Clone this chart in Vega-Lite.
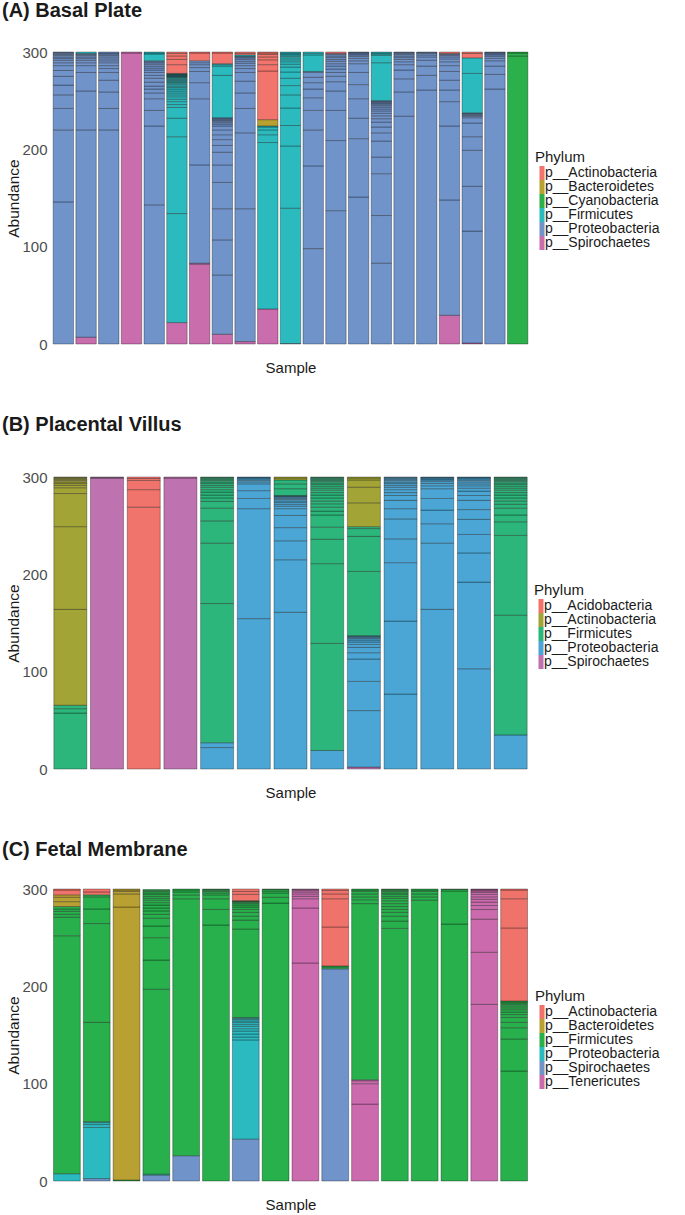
{
"$schema": "https://vega.github.io/schema/vega-lite/v6.json",
"padding": {"left": 1, "top": 0, "right": 5, "bottom": 5},
"background": "white",
"config": {
 "font": "Liberation Sans",
 "view": {"stroke": null},
 "axis": {"grid": false, "domain": false, "ticks": false, "labelFontSize": 15, "labelColor": "#4d4d4d", "titleFontSize": 15.5, "titleFontWeight": "normal", "titleColor": "#1a1a1a"},
 "legend": {"titleFontSize": 15, "titleFontWeight": "normal", "titleColor": "#1a1a1a", "titlePadding": 1, "labelFontSize": 14, "labelColor": "#1a1a1a", "labelOffset": -4, "rowPadding": 0, "symbolType": "M-0.36,-1H0.36V1H-0.36Z", "symbolSize": 196, "symbolStrokeWidth": 0, "symbolOpacity": 1},
 "title": {"fontSize": 20, "fontWeight": "bold", "anchor": "start", "color": "#1a1a1a", "font": "Liberation Sans"},
 "concat": {"spacing": 39}
},
"datasets": {
"A": [
{"sample":1,"phylum":"Proteobacteria","abundance":146},{"sample":1,"phylum":"Proteobacteria","abundance":74},{"sample":1,"phylum":"Proteobacteria","abundance":22},{"sample":1,"phylum":"Proteobacteria","abundance":14},{"sample":1,"phylum":"Proteobacteria","abundance":10},{"sample":1,"phylum":"Proteobacteria","abundance":9},{"sample":1,"phylum":"Proteobacteria","abundance":6},{"sample":1,"phylum":"Proteobacteria","abundance":5},{"sample":1,"phylum":"Proteobacteria","abundance":3},{"sample":1,"phylum":"Proteobacteria","abundance":2.5},{"sample":1,"phylum":"Proteobacteria","abundance":2},{"sample":1,"phylum":"Proteobacteria","abundance":1.5},{"sample":1,"phylum":"Proteobacteria","abundance":1.5},{"sample":1,"phylum":"Proteobacteria","abundance":1},{"sample":1,"phylum":"Proteobacteria","abundance":1},{"sample":1,"phylum":"Proteobacteria","abundance":1},{"sample":1,"phylum":"Proteobacteria","abundance":0.5},
{"sample":2,"phylum":"Spirochaetes","abundance":7},{"sample":2,"phylum":"Proteobacteria","abundance":213},{"sample":2,"phylum":"Proteobacteria","abundance":40},{"sample":2,"phylum":"Proteobacteria","abundance":19},{"sample":2,"phylum":"Proteobacteria","abundance":7},{"sample":2,"phylum":"Proteobacteria","abundance":3},{"sample":2,"phylum":"Proteobacteria","abundance":2.5},{"sample":2,"phylum":"Proteobacteria","abundance":2},{"sample":2,"phylum":"Proteobacteria","abundance":1.5},{"sample":2,"phylum":"Proteobacteria","abundance":1.5},{"sample":2,"phylum":"Proteobacteria","abundance":1},{"sample":2,"phylum":"Proteobacteria","abundance":1},{"sample":2,"phylum":"Firmicutes","abundance":1.5},
{"sample":3,"phylum":"Proteobacteria","abundance":220},{"sample":3,"phylum":"Proteobacteria","abundance":22},{"sample":3,"phylum":"Proteobacteria","abundance":17},{"sample":3,"phylum":"Proteobacteria","abundance":12},{"sample":3,"phylum":"Proteobacteria","abundance":8},{"sample":3,"phylum":"Proteobacteria","abundance":4},{"sample":3,"phylum":"Proteobacteria","abundance":3},{"sample":3,"phylum":"Proteobacteria","abundance":3},{"sample":3,"phylum":"Proteobacteria","abundance":2},{"sample":3,"phylum":"Proteobacteria","abundance":2},{"sample":3,"phylum":"Proteobacteria","abundance":2},{"sample":3,"phylum":"Proteobacteria","abundance":1.5},{"sample":3,"phylum":"Proteobacteria","abundance":1.5},{"sample":3,"phylum":"Proteobacteria","abundance":1},{"sample":3,"phylum":"Proteobacteria","abundance":1},
{"sample":4,"phylum":"Spirochaetes","abundance":299},{"sample":4,"phylum":"Spirochaetes","abundance":1},
{"sample":5,"phylum":"Proteobacteria","abundance":143},{"sample":5,"phylum":"Proteobacteria","abundance":81},{"sample":5,"phylum":"Proteobacteria","abundance":16},{"sample":5,"phylum":"Proteobacteria","abundance":12},{"sample":5,"phylum":"Proteobacteria","abundance":6},{"sample":5,"phylum":"Proteobacteria","abundance":4},{"sample":5,"phylum":"Proteobacteria","abundance":3},{"sample":5,"phylum":"Proteobacteria","abundance":4},{"sample":5,"phylum":"Proteobacteria","abundance":4},{"sample":5,"phylum":"Proteobacteria","abundance":3},{"sample":5,"phylum":"Proteobacteria","abundance":3},{"sample":5,"phylum":"Proteobacteria","abundance":2.5},{"sample":5,"phylum":"Proteobacteria","abundance":2},{"sample":5,"phylum":"Proteobacteria","abundance":2},{"sample":5,"phylum":"Proteobacteria","abundance":2},{"sample":5,"phylum":"Proteobacteria","abundance":1.5},{"sample":5,"phylum":"Proteobacteria","abundance":1},{"sample":5,"phylum":"Proteobacteria","abundance":1},{"sample":5,"phylum":"Firmicutes","abundance":7},{"sample":5,"phylum":"Firmicutes","abundance":1},{"sample":5,"phylum":"Firmicutes","abundance":1},
{"sample":6,"phylum":"Spirochaetes","abundance":22},{"sample":6,"phylum":"Firmicutes","abundance":112},{"sample":6,"phylum":"Firmicutes","abundance":79},{"sample":6,"phylum":"Firmicutes","abundance":19},{"sample":6,"phylum":"Firmicutes","abundance":11},{"sample":6,"phylum":"Firmicutes","abundance":3},{"sample":6,"phylum":"Firmicutes","abundance":3},{"sample":6,"phylum":"Firmicutes","abundance":2.5},{"sample":6,"phylum":"Firmicutes","abundance":2.5},{"sample":6,"phylum":"Firmicutes","abundance":2},{"sample":6,"phylum":"Firmicutes","abundance":2},{"sample":6,"phylum":"Firmicutes","abundance":2},{"sample":6,"phylum":"Firmicutes","abundance":2},{"sample":6,"phylum":"Firmicutes","abundance":1.5},{"sample":6,"phylum":"Firmicutes","abundance":1.5},{"sample":6,"phylum":"Firmicutes","abundance":1.5},{"sample":6,"phylum":"Firmicutes","abundance":1.5},{"sample":6,"phylum":"Firmicutes","abundance":1},{"sample":6,"phylum":"Firmicutes","abundance":1},{"sample":6,"phylum":"Firmicutes","abundance":1},{"sample":6,"phylum":"Firmicutes","abundance":1},{"sample":6,"phylum":"Firmicutes","abundance":1},{"sample":6,"phylum":"Firmicutes","abundance":1},{"sample":6,"phylum":"Firmicutes","abundance":0.5},{"sample":6,"phylum":"Firmicutes","abundance":0.5},{"sample":6,"phylum":"Firmicutes","abundance":0.5},{"sample":6,"phylum":"Firmicutes","abundance":0.5},{"sample":6,"phylum":"Firmicutes","abundance":0.5},{"sample":6,"phylum":"Firmicutes","abundance":0.5},{"sample":6,"phylum":"Firmicutes","abundance":0.5},{"sample":6,"phylum":"Firmicutes","abundance":0.5},{"sample":6,"phylum":"Actinobacteria","abundance":9},{"sample":6,"phylum":"Actinobacteria","abundance":5.5},{"sample":6,"phylum":"Actinobacteria","abundance":3.5},{"sample":6,"phylum":"Actinobacteria","abundance":2.5},{"sample":6,"phylum":"Actinobacteria","abundance":1.5},
{"sample":7,"phylum":"Spirochaetes","abundance":82},{"sample":7,"phylum":"Spirochaetes","abundance":1},{"sample":7,"phylum":"Proteobacteria","abundance":101},{"sample":7,"phylum":"Proteobacteria","abundance":68},{"sample":7,"phylum":"Proteobacteria","abundance":16.5},{"sample":7,"phylum":"Proteobacteria","abundance":11.5},{"sample":7,"phylum":"Proteobacteria","abundance":4},{"sample":7,"phylum":"Proteobacteria","abundance":3},{"sample":7,"phylum":"Proteobacteria","abundance":2},{"sample":7,"phylum":"Proteobacteria","abundance":2},{"sample":7,"phylum":"Actinobacteria","abundance":8},{"sample":7,"phylum":"Actinobacteria","abundance":1},
{"sample":8,"phylum":"Spirochaetes","abundance":10},{"sample":8,"phylum":"Proteobacteria","abundance":61},{"sample":8,"phylum":"Proteobacteria","abundance":36},{"sample":8,"phylum":"Proteobacteria","abundance":32},{"sample":8,"phylum":"Proteobacteria","abundance":27},{"sample":8,"phylum":"Proteobacteria","abundance":18},{"sample":8,"phylum":"Proteobacteria","abundance":13},{"sample":8,"phylum":"Proteobacteria","abundance":7},{"sample":8,"phylum":"Proteobacteria","abundance":6},{"sample":8,"phylum":"Proteobacteria","abundance":5},{"sample":8,"phylum":"Proteobacteria","abundance":5},{"sample":8,"phylum":"Proteobacteria","abundance":4},{"sample":8,"phylum":"Proteobacteria","abundance":2},{"sample":8,"phylum":"Proteobacteria","abundance":1.5},{"sample":8,"phylum":"Proteobacteria","abundance":1.5},{"sample":8,"phylum":"Proteobacteria","abundance":1},{"sample":8,"phylum":"Proteobacteria","abundance":1},{"sample":8,"phylum":"Proteobacteria","abundance":1},{"sample":8,"phylum":"Proteobacteria","abundance":0.5},{"sample":8,"phylum":"Firmicutes","abundance":43.5},{"sample":8,"phylum":"Firmicutes","abundance":9.5},{"sample":8,"phylum":"Firmicutes","abundance":1.5},{"sample":8,"phylum":"Firmicutes","abundance":1},{"sample":8,"phylum":"Actinobacteria","abundance":11},{"sample":8,"phylum":"Actinobacteria","abundance":1},
{"sample":9,"phylum":"Spirochaetes","abundance":2.5},{"sample":9,"phylum":"Proteobacteria","abundance":136.5},{"sample":9,"phylum":"Proteobacteria","abundance":78},{"sample":9,"phylum":"Proteobacteria","abundance":25},{"sample":9,"phylum":"Proteobacteria","abundance":16},{"sample":9,"phylum":"Proteobacteria","abundance":12},{"sample":9,"phylum":"Proteobacteria","abundance":9},{"sample":9,"phylum":"Proteobacteria","abundance":4},{"sample":9,"phylum":"Proteobacteria","abundance":3},{"sample":9,"phylum":"Proteobacteria","abundance":2.5},{"sample":9,"phylum":"Proteobacteria","abundance":2},{"sample":9,"phylum":"Proteobacteria","abundance":2},{"sample":9,"phylum":"Proteobacteria","abundance":1.5},{"sample":9,"phylum":"Proteobacteria","abundance":1},{"sample":9,"phylum":"Proteobacteria","abundance":0.5},{"sample":9,"phylum":"Firmicutes","abundance":1.5},{"sample":9,"phylum":"Actinobacteria","abundance":1.5},{"sample":9,"phylum":"Actinobacteria","abundance":1.5},
{"sample":10,"phylum":"Spirochaetes","abundance":36},{"sample":10,"phylum":"Firmicutes","abundance":171},{"sample":10,"phylum":"Firmicutes","abundance":8},{"sample":10,"phylum":"Firmicutes","abundance":5},{"sample":10,"phylum":"Firmicutes","abundance":3},{"sample":10,"phylum":"Firmicutes","abundance":1},{"sample":10,"phylum":"Bacteroidetes","abundance":6.5},{"sample":10,"phylum":"Actinobacteria","abundance":50},{"sample":10,"phylum":"Actinobacteria","abundance":6.5},{"sample":10,"phylum":"Actinobacteria","abundance":5},{"sample":10,"phylum":"Actinobacteria","abundance":3},{"sample":10,"phylum":"Actinobacteria","abundance":2.5},{"sample":10,"phylum":"Actinobacteria","abundance":1.5},{"sample":10,"phylum":"Actinobacteria","abundance":1},
{"sample":11,"phylum":"Spirochaetes","abundance":0.5},{"sample":11,"phylum":"Firmicutes","abundance":139},{"sample":11,"phylum":"Firmicutes","abundance":64},{"sample":11,"phylum":"Firmicutes","abundance":21},{"sample":11,"phylum":"Firmicutes","abundance":18},{"sample":11,"phylum":"Firmicutes","abundance":13.5},{"sample":11,"phylum":"Firmicutes","abundance":9.5},{"sample":11,"phylum":"Firmicutes","abundance":7.5},{"sample":11,"phylum":"Firmicutes","abundance":6.5},{"sample":11,"phylum":"Firmicutes","abundance":5},{"sample":11,"phylum":"Firmicutes","abundance":3},{"sample":11,"phylum":"Firmicutes","abundance":2.5},{"sample":11,"phylum":"Firmicutes","abundance":2},{"sample":11,"phylum":"Firmicutes","abundance":2},{"sample":11,"phylum":"Firmicutes","abundance":1.5},{"sample":11,"phylum":"Firmicutes","abundance":1.5},{"sample":11,"phylum":"Firmicutes","abundance":1},{"sample":11,"phylum":"Firmicutes","abundance":1},{"sample":11,"phylum":"Firmicutes","abundance":1},
{"sample":12,"phylum":"Proteobacteria","abundance":98},{"sample":12,"phylum":"Proteobacteria","abundance":85},{"sample":12,"phylum":"Proteobacteria","abundance":37},{"sample":12,"phylum":"Proteobacteria","abundance":20},{"sample":12,"phylum":"Proteobacteria","abundance":13},{"sample":12,"phylum":"Proteobacteria","abundance":9},{"sample":12,"phylum":"Proteobacteria","abundance":6.5},{"sample":12,"phylum":"Proteobacteria","abundance":5.5},{"sample":12,"phylum":"Proteobacteria","abundance":5},{"sample":12,"phylum":"Proteobacteria","abundance":1},{"sample":12,"phylum":"Firmicutes","abundance":17},{"sample":12,"phylum":"Firmicutes","abundance":1.5},{"sample":12,"phylum":"Firmicutes","abundance":1.5},
{"sample":13,"phylum":"Proteobacteria","abundance":137},{"sample":13,"phylum":"Proteobacteria","abundance":72},{"sample":13,"phylum":"Proteobacteria","abundance":31},{"sample":13,"phylum":"Proteobacteria","abundance":20},{"sample":13,"phylum":"Proteobacteria","abundance":9.5},{"sample":13,"phylum":"Proteobacteria","abundance":5.5},{"sample":13,"phylum":"Proteobacteria","abundance":4},{"sample":13,"phylum":"Proteobacteria","abundance":3.5},{"sample":13,"phylum":"Proteobacteria","abundance":3},{"sample":13,"phylum":"Proteobacteria","abundance":2.5},{"sample":13,"phylum":"Proteobacteria","abundance":2.5},{"sample":13,"phylum":"Proteobacteria","abundance":2},{"sample":13,"phylum":"Proteobacteria","abundance":2},{"sample":13,"phylum":"Proteobacteria","abundance":1.5},{"sample":13,"phylum":"Proteobacteria","abundance":1.5},{"sample":13,"phylum":"Proteobacteria","abundance":1},{"sample":13,"phylum":"Actinobacteria","abundance":1.5},
{"sample":14,"phylum":"Proteobacteria","abundance":151},{"sample":14,"phylum":"Proteobacteria","abundance":60},{"sample":14,"phylum":"Proteobacteria","abundance":21},{"sample":14,"phylum":"Proteobacteria","abundance":20},{"sample":14,"phylum":"Proteobacteria","abundance":14.5},{"sample":14,"phylum":"Proteobacteria","abundance":12.5},{"sample":14,"phylum":"Proteobacteria","abundance":9},{"sample":14,"phylum":"Proteobacteria","abundance":3},{"sample":14,"phylum":"Proteobacteria","abundance":2.5},{"sample":14,"phylum":"Proteobacteria","abundance":2},{"sample":14,"phylum":"Proteobacteria","abundance":1.5},{"sample":14,"phylum":"Proteobacteria","abundance":1},{"sample":14,"phylum":"Proteobacteria","abundance":1},{"sample":14,"phylum":"Proteobacteria","abundance":0.5},{"sample":14,"phylum":"Proteobacteria","abundance":0.5},
{"sample":15,"phylum":"Proteobacteria","abundance":83},{"sample":15,"phylum":"Proteobacteria","abundance":49},{"sample":15,"phylum":"Proteobacteria","abundance":43},{"sample":15,"phylum":"Proteobacteria","abundance":17},{"sample":15,"phylum":"Proteobacteria","abundance":16.5},{"sample":15,"phylum":"Proteobacteria","abundance":8.5},{"sample":15,"phylum":"Proteobacteria","abundance":6},{"sample":15,"phylum":"Proteobacteria","abundance":5},{"sample":15,"phylum":"Proteobacteria","abundance":3.5},{"sample":15,"phylum":"Proteobacteria","abundance":3},{"sample":15,"phylum":"Proteobacteria","abundance":2.5},{"sample":15,"phylum":"Proteobacteria","abundance":2.5},{"sample":15,"phylum":"Proteobacteria","abundance":2},{"sample":15,"phylum":"Proteobacteria","abundance":2},{"sample":15,"phylum":"Proteobacteria","abundance":1.5},{"sample":15,"phylum":"Proteobacteria","abundance":1.5},{"sample":15,"phylum":"Proteobacteria","abundance":1},{"sample":15,"phylum":"Proteobacteria","abundance":1},{"sample":15,"phylum":"Proteobacteria","abundance":1},{"sample":15,"phylum":"Proteobacteria","abundance":0.5},{"sample":15,"phylum":"Firmicutes","abundance":39},{"sample":15,"phylum":"Firmicutes","abundance":7.5},{"sample":15,"phylum":"Firmicutes","abundance":1.5},{"sample":15,"phylum":"Firmicutes","abundance":1},{"sample":15,"phylum":"Firmicutes","abundance":1},
{"sample":16,"phylum":"Proteobacteria","abundance":234},{"sample":16,"phylum":"Proteobacteria","abundance":25},{"sample":16,"phylum":"Proteobacteria","abundance":13.5},{"sample":16,"phylum":"Proteobacteria","abundance":9},{"sample":16,"phylum":"Proteobacteria","abundance":5.5},{"sample":16,"phylum":"Proteobacteria","abundance":3},{"sample":16,"phylum":"Proteobacteria","abundance":2.5},{"sample":16,"phylum":"Proteobacteria","abundance":2},{"sample":16,"phylum":"Proteobacteria","abundance":1.5},{"sample":16,"phylum":"Proteobacteria","abundance":1.5},{"sample":16,"phylum":"Proteobacteria","abundance":1},{"sample":16,"phylum":"Proteobacteria","abundance":1},{"sample":16,"phylum":"Proteobacteria","abundance":0.5},
{"sample":17,"phylum":"Proteobacteria","abundance":261},{"sample":17,"phylum":"Proteobacteria","abundance":15},{"sample":17,"phylum":"Proteobacteria","abundance":9.5},{"sample":17,"phylum":"Proteobacteria","abundance":6},{"sample":17,"phylum":"Proteobacteria","abundance":3.5},{"sample":17,"phylum":"Proteobacteria","abundance":2},{"sample":17,"phylum":"Proteobacteria","abundance":1.5},{"sample":17,"phylum":"Proteobacteria","abundance":1},{"sample":17,"phylum":"Proteobacteria","abundance":0.5},
{"sample":18,"phylum":"Spirochaetes","abundance":29.5},{"sample":18,"phylum":"Proteobacteria","abundance":118.5},{"sample":18,"phylum":"Proteobacteria","abundance":76},{"sample":18,"phylum":"Proteobacteria","abundance":25},{"sample":18,"phylum":"Proteobacteria","abundance":12},{"sample":18,"phylum":"Proteobacteria","abundance":10},{"sample":18,"phylum":"Proteobacteria","abundance":9},{"sample":18,"phylum":"Proteobacteria","abundance":6},{"sample":18,"phylum":"Proteobacteria","abundance":4},{"sample":18,"phylum":"Proteobacteria","abundance":3},{"sample":18,"phylum":"Proteobacteria","abundance":2},{"sample":18,"phylum":"Proteobacteria","abundance":1.5},{"sample":18,"phylum":"Proteobacteria","abundance":1},{"sample":18,"phylum":"Proteobacteria","abundance":1},{"sample":18,"phylum":"Actinobacteria","abundance":1.5},
{"sample":19,"phylum":"Spirochaetes","abundance":1},{"sample":19,"phylum":"Proteobacteria","abundance":115},{"sample":19,"phylum":"Proteobacteria","abundance":46},{"sample":19,"phylum":"Proteobacteria","abundance":37},{"sample":19,"phylum":"Proteobacteria","abundance":14},{"sample":19,"phylum":"Proteobacteria","abundance":14},{"sample":19,"phylum":"Proteobacteria","abundance":5.5},{"sample":19,"phylum":"Proteobacteria","abundance":1.5},{"sample":19,"phylum":"Proteobacteria","abundance":1},{"sample":19,"phylum":"Proteobacteria","abundance":1},{"sample":19,"phylum":"Proteobacteria","abundance":1},{"sample":19,"phylum":"Proteobacteria","abundance":0.5},{"sample":19,"phylum":"Firmicutes","abundance":40.5},{"sample":19,"phylum":"Firmicutes","abundance":16},{"sample":19,"phylum":"Actinobacteria","abundance":4.5},{"sample":19,"phylum":"Actinobacteria","abundance":1.5},
{"sample":20,"phylum":"Proteobacteria","abundance":262},{"sample":20,"phylum":"Proteobacteria","abundance":15},{"sample":20,"phylum":"Proteobacteria","abundance":8.5},{"sample":20,"phylum":"Proteobacteria","abundance":5.5},{"sample":20,"phylum":"Proteobacteria","abundance":2.5},{"sample":20,"phylum":"Proteobacteria","abundance":2},{"sample":20,"phylum":"Proteobacteria","abundance":1.5},{"sample":20,"phylum":"Proteobacteria","abundance":1},{"sample":20,"phylum":"Proteobacteria","abundance":1},{"sample":20,"phylum":"Proteobacteria","abundance":0.5},{"sample":20,"phylum":"Proteobacteria","abundance":0.5},
{"sample":21,"phylum":"Cyanobacteria","abundance":296},{"sample":21,"phylum":"Cyanobacteria","abundance":3},{"sample":21,"phylum":"Cyanobacteria","abundance":1}
],
"B": [
{"sample":1,"phylum":"Firmicutes","abundance":57.5},{"sample":1,"phylum":"Firmicutes","abundance":4.5},{"sample":1,"phylum":"Firmicutes","abundance":3.5},{"sample":1,"phylum":"Actinobacteria","abundance":98.5},{"sample":1,"phylum":"Actinobacteria","abundance":85},{"sample":1,"phylum":"Actinobacteria","abundance":34},{"sample":1,"phylum":"Actinobacteria","abundance":6},{"sample":1,"phylum":"Actinobacteria","abundance":2.5},{"sample":1,"phylum":"Actinobacteria","abundance":2},{"sample":1,"phylum":"Actinobacteria","abundance":1.5},{"sample":1,"phylum":"Actinobacteria","abundance":1.5},{"sample":1,"phylum":"Actinobacteria","abundance":1},{"sample":1,"phylum":"Actinobacteria","abundance":1},{"sample":1,"phylum":"Actinobacteria","abundance":1},{"sample":1,"phylum":"Actinobacteria","abundance":0.5},
{"sample":2,"phylum":"Spirochaetes","abundance":298.5},{"sample":2,"phylum":"Spirochaetes","abundance":1},{"sample":2,"phylum":"Spirochaetes","abundance":0.5},
{"sample":3,"phylum":"Acidobacteria","abundance":269},{"sample":3,"phylum":"Acidobacteria","abundance":18},{"sample":3,"phylum":"Acidobacteria","abundance":9.5},{"sample":3,"phylum":"Acidobacteria","abundance":2},{"sample":3,"phylum":"Acidobacteria","abundance":1.5},
{"sample":4,"phylum":"Spirochaetes","abundance":299},{"sample":4,"phylum":"Spirochaetes","abundance":1},
{"sample":5,"phylum":"Proteobacteria","abundance":22},{"sample":5,"phylum":"Proteobacteria","abundance":5},{"sample":5,"phylum":"Firmicutes","abundance":143},{"sample":5,"phylum":"Firmicutes","abundance":62},{"sample":5,"phylum":"Firmicutes","abundance":23},{"sample":5,"phylum":"Firmicutes","abundance":13},{"sample":5,"phylum":"Firmicutes","abundance":7},{"sample":5,"phylum":"Firmicutes","abundance":3.5},{"sample":5,"phylum":"Firmicutes","abundance":3},{"sample":5,"phylum":"Firmicutes","abundance":3},{"sample":5,"phylum":"Firmicutes","abundance":2.5},{"sample":5,"phylum":"Firmicutes","abundance":2.5},{"sample":5,"phylum":"Firmicutes","abundance":2},{"sample":5,"phylum":"Firmicutes","abundance":2},{"sample":5,"phylum":"Firmicutes","abundance":1.5},{"sample":5,"phylum":"Firmicutes","abundance":1.5},{"sample":5,"phylum":"Firmicutes","abundance":1},{"sample":5,"phylum":"Firmicutes","abundance":1},{"sample":5,"phylum":"Firmicutes","abundance":1},{"sample":5,"phylum":"Firmicutes","abundance":0.5},
{"sample":6,"phylum":"Proteobacteria","abundance":154.5},{"sample":6,"phylum":"Proteobacteria","abundance":113},{"sample":6,"phylum":"Proteobacteria","abundance":10.5},{"sample":6,"phylum":"Proteobacteria","abundance":8},{"sample":6,"phylum":"Proteobacteria","abundance":7},{"sample":6,"phylum":"Proteobacteria","abundance":2},{"sample":6,"phylum":"Proteobacteria","abundance":1.5},{"sample":6,"phylum":"Proteobacteria","abundance":1.5},{"sample":6,"phylum":"Proteobacteria","abundance":1},{"sample":6,"phylum":"Proteobacteria","abundance":0.5},{"sample":6,"phylum":"Proteobacteria","abundance":0.5},
{"sample":7,"phylum":"Proteobacteria","abundance":161},{"sample":7,"phylum":"Proteobacteria","abundance":54},{"sample":7,"phylum":"Proteobacteria","abundance":19.5},{"sample":7,"phylum":"Proteobacteria","abundance":13.5},{"sample":7,"phylum":"Proteobacteria","abundance":12.5},{"sample":7,"phylum":"Proteobacteria","abundance":7},{"sample":7,"phylum":"Proteobacteria","abundance":2.5},{"sample":7,"phylum":"Proteobacteria","abundance":2},{"sample":7,"phylum":"Proteobacteria","abundance":2},{"sample":7,"phylum":"Proteobacteria","abundance":1.5},{"sample":7,"phylum":"Proteobacteria","abundance":1.5},{"sample":7,"phylum":"Proteobacteria","abundance":1},{"sample":7,"phylum":"Proteobacteria","abundance":1},{"sample":7,"phylum":"Proteobacteria","abundance":1},{"sample":7,"phylum":"Proteobacteria","abundance":0.5},{"sample":7,"phylum":"Proteobacteria","abundance":0.5},{"sample":7,"phylum":"Firmicutes","abundance":7},{"sample":7,"phylum":"Firmicutes","abundance":5},{"sample":7,"phylum":"Firmicutes","abundance":4},{"sample":7,"phylum":"Actinobacteria","abundance":2},{"sample":7,"phylum":"Actinobacteria","abundance":1},
{"sample":8,"phylum":"Proteobacteria","abundance":19},{"sample":8,"phylum":"Firmicutes","abundance":110},{"sample":8,"phylum":"Firmicutes","abundance":82},{"sample":8,"phylum":"Firmicutes","abundance":25},{"sample":8,"phylum":"Firmicutes","abundance":12.5},{"sample":8,"phylum":"Firmicutes","abundance":12.5},{"sample":8,"phylum":"Firmicutes","abundance":4},{"sample":8,"phylum":"Firmicutes","abundance":4},{"sample":8,"phylum":"Firmicutes","abundance":3.5},{"sample":8,"phylum":"Firmicutes","abundance":3},{"sample":8,"phylum":"Firmicutes","abundance":3},{"sample":8,"phylum":"Firmicutes","abundance":3},{"sample":8,"phylum":"Firmicutes","abundance":2.5},{"sample":8,"phylum":"Firmicutes","abundance":2.5},{"sample":8,"phylum":"Firmicutes","abundance":2},{"sample":8,"phylum":"Firmicutes","abundance":2},{"sample":8,"phylum":"Firmicutes","abundance":2},{"sample":8,"phylum":"Firmicutes","abundance":1.5},{"sample":8,"phylum":"Firmicutes","abundance":1.5},{"sample":8,"phylum":"Firmicutes","abundance":1},{"sample":8,"phylum":"Firmicutes","abundance":1},{"sample":8,"phylum":"Firmicutes","abundance":1},{"sample":8,"phylum":"Firmicutes","abundance":1},{"sample":8,"phylum":"Firmicutes","abundance":0.5},
{"sample":9,"phylum":"Spirochaetes","abundance":2},{"sample":9,"phylum":"Proteobacteria","abundance":58},{"sample":9,"phylum":"Proteobacteria","abundance":30},{"sample":9,"phylum":"Proteobacteria","abundance":23},{"sample":9,"phylum":"Proteobacteria","abundance":6.5},{"sample":9,"phylum":"Proteobacteria","abundance":5.5},{"sample":9,"phylum":"Proteobacteria","abundance":3},{"sample":9,"phylum":"Proteobacteria","abundance":2.5},{"sample":9,"phylum":"Proteobacteria","abundance":2},{"sample":9,"phylum":"Proteobacteria","abundance":1.5},{"sample":9,"phylum":"Proteobacteria","abundance":1},{"sample":9,"phylum":"Proteobacteria","abundance":1},{"sample":9,"phylum":"Proteobacteria","abundance":0.5},{"sample":9,"phylum":"Proteobacteria","abundance":0.5},{"sample":9,"phylum":"Firmicutes","abundance":66},{"sample":9,"phylum":"Firmicutes","abundance":36},{"sample":9,"phylum":"Firmicutes","abundance":8},{"sample":9,"phylum":"Firmicutes","abundance":2},{"sample":9,"phylum":"Actinobacteria","abundance":24.5},{"sample":9,"phylum":"Actinobacteria","abundance":16},{"sample":9,"phylum":"Actinobacteria","abundance":7.5},{"sample":9,"phylum":"Actinobacteria","abundance":2},{"sample":9,"phylum":"Actinobacteria","abundance":1},
{"sample":10,"phylum":"Proteobacteria","abundance":77},{"sample":10,"phylum":"Proteobacteria","abundance":75},{"sample":10,"phylum":"Proteobacteria","abundance":60},{"sample":10,"phylum":"Proteobacteria","abundance":24.5},{"sample":10,"phylum":"Proteobacteria","abundance":20.5},{"sample":10,"phylum":"Proteobacteria","abundance":10.5},{"sample":10,"phylum":"Proteobacteria","abundance":8.5},{"sample":10,"phylum":"Proteobacteria","abundance":5},{"sample":10,"phylum":"Proteobacteria","abundance":3},{"sample":10,"phylum":"Proteobacteria","abundance":3},{"sample":10,"phylum":"Proteobacteria","abundance":2.5},{"sample":10,"phylum":"Proteobacteria","abundance":2},{"sample":10,"phylum":"Proteobacteria","abundance":2},{"sample":10,"phylum":"Proteobacteria","abundance":1.5},{"sample":10,"phylum":"Proteobacteria","abundance":1.5},{"sample":10,"phylum":"Proteobacteria","abundance":1},{"sample":10,"phylum":"Proteobacteria","abundance":1},{"sample":10,"phylum":"Proteobacteria","abundance":1},{"sample":10,"phylum":"Proteobacteria","abundance":0.5},
{"sample":11,"phylum":"Proteobacteria","abundance":164},{"sample":11,"phylum":"Proteobacteria","abundance":68},{"sample":11,"phylum":"Proteobacteria","abundance":20},{"sample":11,"phylum":"Proteobacteria","abundance":14},{"sample":11,"phylum":"Proteobacteria","abundance":12},{"sample":11,"phylum":"Proteobacteria","abundance":10},{"sample":11,"phylum":"Proteobacteria","abundance":3},{"sample":11,"phylum":"Proteobacteria","abundance":2.5},{"sample":11,"phylum":"Proteobacteria","abundance":2},{"sample":11,"phylum":"Proteobacteria","abundance":1.5},{"sample":11,"phylum":"Proteobacteria","abundance":1},{"sample":11,"phylum":"Proteobacteria","abundance":1},{"sample":11,"phylum":"Proteobacteria","abundance":0.5},{"sample":11,"phylum":"Proteobacteria","abundance":0.5},
{"sample":12,"phylum":"Proteobacteria","abundance":103},{"sample":12,"phylum":"Proteobacteria","abundance":89},{"sample":12,"phylum":"Proteobacteria","abundance":30},{"sample":12,"phylum":"Proteobacteria","abundance":19},{"sample":12,"phylum":"Proteobacteria","abundance":15.5},{"sample":12,"phylum":"Proteobacteria","abundance":10},{"sample":12,"phylum":"Proteobacteria","abundance":9.5},{"sample":12,"phylum":"Proteobacteria","abundance":5},{"sample":12,"phylum":"Proteobacteria","abundance":4.5},{"sample":12,"phylum":"Proteobacteria","abundance":3},{"sample":12,"phylum":"Proteobacteria","abundance":2.5},{"sample":12,"phylum":"Proteobacteria","abundance":2},{"sample":12,"phylum":"Proteobacteria","abundance":2},{"sample":12,"phylum":"Proteobacteria","abundance":1.5},{"sample":12,"phylum":"Proteobacteria","abundance":1.5},{"sample":12,"phylum":"Proteobacteria","abundance":1},{"sample":12,"phylum":"Proteobacteria","abundance":0.5},{"sample":12,"phylum":"Proteobacteria","abundance":0.5},
{"sample":13,"phylum":"Proteobacteria","abundance":35},{"sample":13,"phylum":"Firmicutes","abundance":123},{"sample":13,"phylum":"Firmicutes","abundance":82},{"sample":13,"phylum":"Firmicutes","abundance":14},{"sample":13,"phylum":"Firmicutes","abundance":7},{"sample":13,"phylum":"Firmicutes","abundance":7},{"sample":13,"phylum":"Firmicutes","abundance":4},{"sample":13,"phylum":"Firmicutes","abundance":3.5},{"sample":13,"phylum":"Firmicutes","abundance":3},{"sample":13,"phylum":"Firmicutes","abundance":3},{"sample":13,"phylum":"Firmicutes","abundance":2.5},{"sample":13,"phylum":"Firmicutes","abundance":2.5},{"sample":13,"phylum":"Firmicutes","abundance":2},{"sample":13,"phylum":"Firmicutes","abundance":2},{"sample":13,"phylum":"Firmicutes","abundance":2},{"sample":13,"phylum":"Firmicutes","abundance":1.5},{"sample":13,"phylum":"Firmicutes","abundance":1.5},{"sample":13,"phylum":"Firmicutes","abundance":1},{"sample":13,"phylum":"Firmicutes","abundance":1},{"sample":13,"phylum":"Firmicutes","abundance":1},{"sample":13,"phylum":"Firmicutes","abundance":1},{"sample":13,"phylum":"Firmicutes","abundance":0.5}
],
"C": [
{"sample":1,"phylum":"Proteobacteria","abundance":7.5},{"sample":1,"phylum":"Firmicutes","abundance":244.5},{"sample":1,"phylum":"Firmicutes","abundance":19},{"sample":1,"phylum":"Firmicutes","abundance":3},{"sample":1,"phylum":"Firmicutes","abundance":3},{"sample":1,"phylum":"Firmicutes","abundance":2.5},{"sample":1,"phylum":"Firmicutes","abundance":2.5},{"sample":1,"phylum":"Bacteroidetes","abundance":5},{"sample":1,"phylum":"Bacteroidetes","abundance":4.5},{"sample":1,"phylum":"Bacteroidetes","abundance":2.5},{"sample":1,"phylum":"Actinobacteria","abundance":5},{"sample":1,"phylum":"Actinobacteria","abundance":1},
{"sample":2,"phylum":"Spirochaetes","abundance":2.5},{"sample":2,"phylum":"Proteobacteria","abundance":52.5},{"sample":2,"phylum":"Proteobacteria","abundance":3},{"sample":2,"phylum":"Proteobacteria","abundance":2},{"sample":2,"phylum":"Proteobacteria","abundance":1},{"sample":2,"phylum":"Firmicutes","abundance":102},{"sample":2,"phylum":"Firmicutes","abundance":101.5},{"sample":2,"phylum":"Firmicutes","abundance":15},{"sample":2,"phylum":"Firmicutes","abundance":12.5},{"sample":2,"phylum":"Firmicutes","abundance":2},{"sample":2,"phylum":"Actinobacteria","abundance":3},{"sample":2,"phylum":"Actinobacteria","abundance":3},
{"sample":3,"phylum":"Firmicutes","abundance":1},{"sample":3,"phylum":"Bacteroidetes","abundance":280.5},{"sample":3,"phylum":"Bacteroidetes","abundance":13.5},{"sample":3,"phylum":"Bacteroidetes","abundance":2.5},{"sample":3,"phylum":"Bacteroidetes","abundance":1.5},{"sample":3,"phylum":"Bacteroidetes","abundance":1},
{"sample":4,"phylum":"Spirochaetes","abundance":6},{"sample":4,"phylum":"Proteobacteria","abundance":1},{"sample":4,"phylum":"Firmicutes","abundance":190},{"sample":4,"phylum":"Firmicutes","abundance":30},{"sample":4,"phylum":"Firmicutes","abundance":23},{"sample":4,"phylum":"Firmicutes","abundance":12},{"sample":4,"phylum":"Firmicutes","abundance":8},{"sample":4,"phylum":"Firmicutes","abundance":4},{"sample":4,"phylum":"Firmicutes","abundance":3.5},{"sample":4,"phylum":"Firmicutes","abundance":3},{"sample":4,"phylum":"Firmicutes","abundance":3},{"sample":4,"phylum":"Firmicutes","abundance":2.5},{"sample":4,"phylum":"Firmicutes","abundance":2.5},{"sample":4,"phylum":"Firmicutes","abundance":2},{"sample":4,"phylum":"Firmicutes","abundance":2},{"sample":4,"phylum":"Firmicutes","abundance":2},{"sample":4,"phylum":"Firmicutes","abundance":1.5},{"sample":4,"phylum":"Firmicutes","abundance":1.5},{"sample":4,"phylum":"Firmicutes","abundance":1},{"sample":4,"phylum":"Firmicutes","abundance":1},
{"sample":5,"phylum":"Spirochaetes","abundance":26},{"sample":5,"phylum":"Firmicutes","abundance":264},{"sample":5,"phylum":"Firmicutes","abundance":4},{"sample":5,"phylum":"Firmicutes","abundance":3},{"sample":5,"phylum":"Firmicutes","abundance":2},{"sample":5,"phylum":"Firmicutes","abundance":1},
{"sample":6,"phylum":"Firmicutes","abundance":263},{"sample":6,"phylum":"Firmicutes","abundance":16},{"sample":6,"phylum":"Firmicutes","abundance":11},{"sample":6,"phylum":"Firmicutes","abundance":4},{"sample":6,"phylum":"Firmicutes","abundance":2},{"sample":6,"phylum":"Firmicutes","abundance":1.5},{"sample":6,"phylum":"Firmicutes","abundance":1},{"sample":6,"phylum":"Firmicutes","abundance":1},{"sample":6,"phylum":"Firmicutes","abundance":0.5},
{"sample":7,"phylum":"Spirochaetes","abundance":43},{"sample":7,"phylum":"Proteobacteria","abundance":102},{"sample":7,"phylum":"Proteobacteria","abundance":3},{"sample":7,"phylum":"Proteobacteria","abundance":3},{"sample":7,"phylum":"Proteobacteria","abundance":3},{"sample":7,"phylum":"Proteobacteria","abundance":2.5},{"sample":7,"phylum":"Proteobacteria","abundance":2.5},{"sample":7,"phylum":"Proteobacteria","abundance":2},{"sample":7,"phylum":"Proteobacteria","abundance":2},{"sample":7,"phylum":"Proteobacteria","abundance":1.5},{"sample":7,"phylum":"Proteobacteria","abundance":1.5},{"sample":7,"phylum":"Proteobacteria","abundance":1},{"sample":7,"phylum":"Proteobacteria","abundance":1},{"sample":7,"phylum":"Firmicutes","abundance":91},{"sample":7,"phylum":"Firmicutes","abundance":9},{"sample":7,"phylum":"Firmicutes","abundance":4},{"sample":7,"phylum":"Firmicutes","abundance":4},{"sample":7,"phylum":"Firmicutes","abundance":3},{"sample":7,"phylum":"Firmicutes","abundance":2.5},{"sample":7,"phylum":"Firmicutes","abundance":2},{"sample":7,"phylum":"Firmicutes","abundance":1.5},{"sample":7,"phylum":"Firmicutes","abundance":1},{"sample":7,"phylum":"Firmicutes","abundance":1},{"sample":7,"phylum":"Firmicutes","abundance":0.5},{"sample":7,"phylum":"Firmicutes","abundance":0.5},{"sample":7,"phylum":"Actinobacteria","abundance":6.5},{"sample":7,"phylum":"Actinobacteria","abundance":3},{"sample":7,"phylum":"Actinobacteria","abundance":2.5},
{"sample":8,"phylum":"Firmicutes","abundance":285.5},{"sample":8,"phylum":"Firmicutes","abundance":6},{"sample":8,"phylum":"Firmicutes","abundance":4.5},{"sample":8,"phylum":"Firmicutes","abundance":2},{"sample":8,"phylum":"Firmicutes","abundance":1.5},{"sample":8,"phylum":"Firmicutes","abundance":0.5},
{"sample":9,"phylum":"Tenericutes","abundance":224},{"sample":9,"phylum":"Tenericutes","abundance":56.5},{"sample":9,"phylum":"Tenericutes","abundance":9.5},{"sample":9,"phylum":"Tenericutes","abundance":2.5},{"sample":9,"phylum":"Tenericutes","abundance":2.5},{"sample":9,"phylum":"Tenericutes","abundance":2},{"sample":9,"phylum":"Tenericutes","abundance":1.5},{"sample":9,"phylum":"Tenericutes","abundance":1},{"sample":9,"phylum":"Tenericutes","abundance":0.5},
{"sample":10,"phylum":"Spirochaetes","abundance":218},{"sample":10,"phylum":"Firmicutes","abundance":2},{"sample":10,"phylum":"Firmicutes","abundance":1},{"sample":10,"phylum":"Actinobacteria","abundance":40},{"sample":10,"phylum":"Actinobacteria","abundance":29},{"sample":10,"phylum":"Actinobacteria","abundance":5},{"sample":10,"phylum":"Actinobacteria","abundance":3.5},{"sample":10,"phylum":"Actinobacteria","abundance":1.5},
{"sample":11,"phylum":"Tenericutes","abundance":79},{"sample":11,"phylum":"Tenericutes","abundance":21},{"sample":11,"phylum":"Tenericutes","abundance":3},{"sample":11,"phylum":"Tenericutes","abundance":1},{"sample":11,"phylum":"Firmicutes","abundance":181},{"sample":11,"phylum":"Firmicutes","abundance":4},{"sample":11,"phylum":"Firmicutes","abundance":3},{"sample":11,"phylum":"Firmicutes","abundance":3},{"sample":11,"phylum":"Firmicutes","abundance":2.5},{"sample":11,"phylum":"Firmicutes","abundance":1.5},{"sample":11,"phylum":"Firmicutes","abundance":1},
{"sample":12,"phylum":"Firmicutes","abundance":259.5},{"sample":12,"phylum":"Firmicutes","abundance":7.5},{"sample":12,"phylum":"Firmicutes","abundance":5},{"sample":12,"phylum":"Firmicutes","abundance":4},{"sample":12,"phylum":"Firmicutes","abundance":3},{"sample":12,"phylum":"Firmicutes","abundance":3},{"sample":12,"phylum":"Firmicutes","abundance":3},{"sample":12,"phylum":"Firmicutes","abundance":3},{"sample":12,"phylum":"Firmicutes","abundance":2.5},{"sample":12,"phylum":"Firmicutes","abundance":2},{"sample":12,"phylum":"Firmicutes","abundance":2},{"sample":12,"phylum":"Firmicutes","abundance":1.5},{"sample":12,"phylum":"Firmicutes","abundance":1.5},{"sample":12,"phylum":"Firmicutes","abundance":1},{"sample":12,"phylum":"Firmicutes","abundance":1},{"sample":12,"phylum":"Firmicutes","abundance":0.5},
{"sample":13,"phylum":"Firmicutes","abundance":288.5},{"sample":13,"phylum":"Firmicutes","abundance":3.5},{"sample":13,"phylum":"Firmicutes","abundance":3},{"sample":13,"phylum":"Firmicutes","abundance":2.5},{"sample":13,"phylum":"Firmicutes","abundance":1.5},{"sample":13,"phylum":"Firmicutes","abundance":1},
{"sample":14,"phylum":"Firmicutes","abundance":264},{"sample":14,"phylum":"Firmicutes","abundance":34},{"sample":14,"phylum":"Firmicutes","abundance":1.5},{"sample":14,"phylum":"Firmicutes","abundance":0.5},
{"sample":15,"phylum":"Tenericutes","abundance":181.5},{"sample":15,"phylum":"Tenericutes","abundance":53.5},{"sample":15,"phylum":"Tenericutes","abundance":34},{"sample":15,"phylum":"Tenericutes","abundance":10},{"sample":15,"phylum":"Tenericutes","abundance":4},{"sample":15,"phylum":"Tenericutes","abundance":3.5},{"sample":15,"phylum":"Tenericutes","abundance":3},{"sample":15,"phylum":"Tenericutes","abundance":2.5},{"sample":15,"phylum":"Tenericutes","abundance":2.5},{"sample":15,"phylum":"Tenericutes","abundance":2},{"sample":15,"phylum":"Tenericutes","abundance":1.5},{"sample":15,"phylum":"Tenericutes","abundance":1},{"sample":15,"phylum":"Tenericutes","abundance":0.5},{"sample":15,"phylum":"Tenericutes","abundance":0.5},
{"sample":16,"phylum":"Firmicutes","abundance":113},{"sample":16,"phylum":"Firmicutes","abundance":33},{"sample":16,"phylum":"Firmicutes","abundance":11.5},{"sample":16,"phylum":"Firmicutes","abundance":5.5},{"sample":16,"phylum":"Firmicutes","abundance":5},{"sample":16,"phylum":"Firmicutes","abundance":3},{"sample":16,"phylum":"Firmicutes","abundance":2.5},{"sample":16,"phylum":"Firmicutes","abundance":2.5},{"sample":16,"phylum":"Firmicutes","abundance":2},{"sample":16,"phylum":"Firmicutes","abundance":2},{"sample":16,"phylum":"Firmicutes","abundance":1.5},{"sample":16,"phylum":"Firmicutes","abundance":1.5},{"sample":16,"phylum":"Firmicutes","abundance":1},{"sample":16,"phylum":"Firmicutes","abundance":1},{"sample":16,"phylum":"Actinobacteria","abundance":75},{"sample":16,"phylum":"Actinobacteria","abundance":30},{"sample":16,"phylum":"Actinobacteria","abundance":9},{"sample":16,"phylum":"Actinobacteria","abundance":1}
]
},
"vconcat": [
{
 "title": {"text": "(A) Basal Plate", "offset": 24.3, "dx": -5},
 "data": {"name": "A"},
 "width": 477, "height": 292,
 "mark": {"type": "bar", "stroke": "#000", "strokeOpacity": 0.45, "strokeWidth": 0.7},
 "encoding": {
  "x": {"field": "sample", "type": "ordinal", "title": "Sample", "scale": {"paddingInner": 0.1, "paddingOuter": 0.05}, "axis": {"labels": false, "titlePadding": 16, "titleFontSize": 15}},
  "y": {"field": "abundance", "type": "quantitative", "stack": "zero", "title": "Abundance", "scale": {"domain": [0, 300], "nice": false}, "axis": {"values": [0, 100, 200, 300], "labelPadding": 5, "titlePadding": 0}},
  "color": {"field": "phylum", "type": "nominal", "scale": {"domain": ["Actinobacteria", "Bacteroidetes", "Cyanobacteria", "Firmicutes", "Proteobacteria", "Spirochaetes"], "range": ["#f1756c", "#b8a031", "#2bb04b", "#2bbbbf", "#7093ca", "#c96dad"]}, "legend": {"title": "Phylum", "orient": "none", "legendX": 483, "legendY": 98, "labelExpr": "'p__' + datum.label"}},
  "order": [{"field": "phylum", "sort": "descending"}, {"field": "abundance", "sort": "descending"}]
 }
},
{
 "title": {"text": "(B) Placental Villus", "offset": 35.5, "dx": -5},
 "data": {"name": "B"},
 "width": 477, "height": 292,
 "mark": {"type": "bar", "stroke": "#000", "strokeOpacity": 0.45, "strokeWidth": 0.7},
 "encoding": {
  "x": {"field": "sample", "type": "ordinal", "title": "Sample", "scale": {"paddingInner": 0.1, "paddingOuter": 0.05}, "axis": {"labels": false, "titlePadding": 16, "titleFontSize": 15}},
  "y": {"field": "abundance", "type": "quantitative", "stack": "zero", "title": "Abundance", "scale": {"domain": [0, 300], "nice": false}, "axis": {"values": [0, 100, 200, 300], "labelPadding": 5, "titlePadding": 0}},
  "color": {"field": "phylum", "type": "nominal", "scale": {"domain": ["Acidobacteria", "Actinobacteria", "Firmicutes", "Proteobacteria", "Spirochaetes"], "range": ["#f0746b", "#a3a436", "#2db67b", "#4ca6d5", "#be73b0"]}, "legend": {"title": "Phylum", "orient": "none", "legendX": 482, "legendY": 106, "labelExpr": "'p__' + datum.label"}},
  "order": [{"field": "phylum", "sort": "descending"}, {"field": "abundance", "sort": "descending"}]
 }
},
{
 "title": {"text": "(C) Fetal Membrane", "offset": 22.5, "dx": -5},
 "data": {"name": "C"},
 "width": 477, "height": 292,
 "mark": {"type": "bar", "stroke": "#000", "strokeOpacity": 0.45, "strokeWidth": 0.7},
 "encoding": {
  "x": {"field": "sample", "type": "ordinal", "title": "Sample", "scale": {"paddingInner": 0.1, "paddingOuter": 0.05}, "axis": {"labels": false, "titlePadding": 16, "titleFontSize": 15}},
  "y": {"field": "abundance", "type": "quantitative", "stack": "zero", "title": "Abundance", "scale": {"domain": [0, 300], "nice": false}, "axis": {"values": [0, 100, 200, 300], "labelPadding": 5, "titlePadding": 0}},
  "color": {"field": "phylum", "type": "nominal", "scale": {"domain": ["Actinobacteria", "Bacteroidetes", "Firmicutes", "Proteobacteria", "Spirochaetes", "Tenericutes"], "range": ["#f0736b", "#b8a032", "#28b04c", "#2abac0", "#7093ca", "#cb6bae"]}, "legend": {"title": "Phylum", "orient": "none", "legendX": 483, "legendY": 100, "labelExpr": "'p__' + datum.label"}},
  "order": [{"field": "phylum", "sort": "descending"}, {"field": "abundance", "sort": "descending"}]
 }
}
],
"resolve": {"scale": {"color": "independent", "x": "independent", "y": "independent"}, "legend": {"color": "independent"}}
}
